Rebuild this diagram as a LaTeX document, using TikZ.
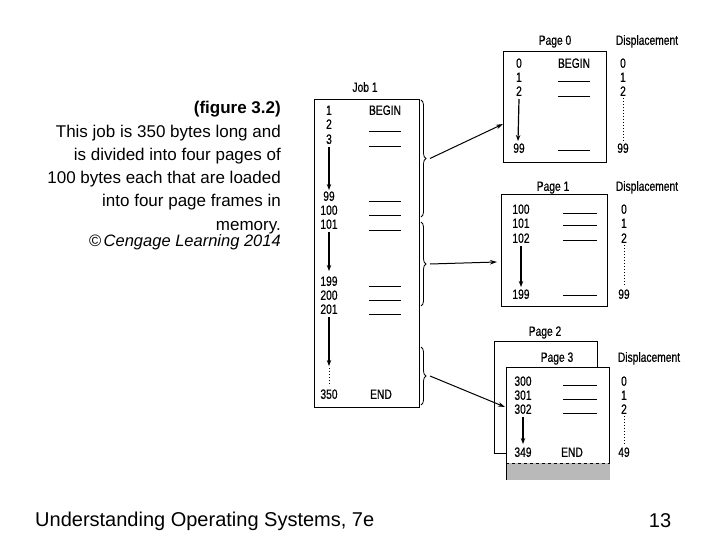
\documentclass[tikz,border=0pt]{standalone}
\usepackage{fontspec}
\setmainfont{Liberation Sans}
\newfontfamily\cond[FakeStretch=0.76,FakeBold=0.5]{Liberation Sans}
\usetikzlibrary{arrows.meta,decorations.pathreplacing,calc}
\tikzset{
  box/.style={draw, line width=1.1pt, anchor=north west, inner sep=0pt, fill=white},
  lbl/.style={font=\cond\fontsize{13.5}{13.5}\selectfont, inner sep=0pt, text height=9.7pt, text depth=0pt},
  captxt/.style={font=\fontsize{17}{17}\selectfont, anchor=base east, inner sep=0pt},
  entry/.style={line width=0.9pt},
  down/.style={line width=1.2pt, -{Stealth[length=6pt,width=4.5pt]}},
  dots/.style={dotted, line width=1pt},
  brc/.style={decorate, decoration={brace, amplitude=5pt}, line width=0.8pt},
  link/.style={line width=1pt, -{Stealth[length=7pt,width=4.5pt]}}
}
\begin{document}
\begin{tikzpicture}[x=1pt,y=-1pt]
\useasboundingbox (0,0) rectangle (720,540);
% caption
\node[captxt, font=\bfseries\fontsize{17}{17}\selectfont] (c1) at (281,114) {(figure 3.2)};
\node[captxt] (c2) at (281,138) {This job is 350 bytes long and};
\node[captxt] (c3) at (281,161) {is divided into four pages of};
\node[captxt] (c4) at (281,184) {100 bytes each that are loaded};
\node[captxt] (c5) at (281,207) {into four page frames in};
\node[captxt] (c6) at (281,230) {memory.};
\node[captxt, font=\itshape\fontsize{16.5}{16.5}\selectfont] (c7) at (281,247) {\char"00A9\,Cengage Learning 2014};
% Job 1
\node[lbl] (jl) at (365,87) {Job 1};
\node[box, minimum width=105pt, minimum height=308pt] (job) at (314,99) {};
\foreach \n/\y in {1/110,2/124,3/139,99/196,100/210,101/224,199/281,200/295,201/309,350/394}
  \node[lbl] (j\n) at (329,\y) {\n};
\node[lbl] (jb) at (385,110) {BEGIN};
\node[lbl] (je) at (381,394) {END};
\foreach \y in {131,146,201,215,230,286,300,314}
  \draw[entry] (369,\y) -- (401,\y);
\draw[down] (j3.south) ++(0,3) -- (329,190);
\draw[down] (j101.south) ++(0,3) -- (329,271);
\draw[down] (j201.south) ++(0,3) -- (329,366);
\draw[dots] (329,368) -- (329,386);
% braces
\draw[brc] (421,100) -- (421,217) coordinate[midway, xshift=6pt] (b1);
\draw[brc] (421,222) -- (421,306) coordinate[midway, xshift=6pt] (b2);
\draw[brc] (421,347) -- (421,405) coordinate[midway, xshift=6pt] (b3);
% Page 0
\node[lbl] (p0l) at (555,40) {Page 0};
\node[lbl] (d0l) at (647,40) {Displacement};
\node[box, minimum width=103pt, minimum height=111pt] (p0) at (503,51) {};
\foreach \n/\y in {0/63,1/77,2/91,99/148}
  \node[lbl] (a\n) at (519,\y) {\n};
\node[lbl] (p0b) at (574,63) {BEGIN};
\foreach \y in {81,96,150}
  \draw[entry] (558,\y) -- (590,\y);
\draw[down] (a2.south) ++(0,3) -- (518,141);
\foreach \n/\y in {0/63,1/77,2/91,99/148}
  \node[lbl] (da\n) at (623,\y) {\n};
\draw[dots] (da2.south) ++(0,2) -- (623,141);
% Page 1
\node[lbl] (p1l) at (553,186) {Page 1};
\node[lbl] (d1l) at (647,186) {Displacement};
\node[box, minimum width=106pt, minimum height=112pt] (p1) at (501,194) {};
\foreach \n/\y in {100/209,101/223,102/238,199/294}
  \node[lbl] (b\n) at (521,\y) {\n};
\foreach \y in {213,225,240,295}
  \draw[entry] (563,\y) -- (597,\y);
\draw[down] (b102.south) ++(0,3) -- (521,287);
\foreach \n/\y in {0/209,1/223,2/238,99/294}
  \node[lbl] (db\n) at (624,\y) {\n};
\draw[dots] (db2.south) ++(0,2) -- (624,287);
% Page 2 and 3
\node[lbl] (p2l) at (545,331) {Page 2};
\node[box, minimum width=103pt, minimum height=112pt] (p2) at (494,341) {};
\node[box, minimum width=103pt, minimum height=112pt] (p3) at (506,367) {};
\node[lbl] (p3l) at (557,357) {Page 3};
\node[lbl] (d3l) at (649,357) {Displacement};
\fill[gray!55] ($(p3.south west)+(0.6,-17)$) rectangle ($(p3.south east)+(-0.6,-0.6)$);
\draw[dashed, line width=0.9pt] ($(p3.south west)+(0,-17)$) -- ($(p3.south east)+(0,-17)$);
\foreach \n/\y in {300/381,301/395,302/409,349/452}
  \node[lbl] (c\n) at (523,\y) {\n};
\node[lbl] (p3e) at (572,452) {END};
\foreach \y in {385,399,413}
  \draw[entry] (563,\y) -- (597,\y);
\draw[down] (c302.south) ++(0,3) -- (523,444);
\foreach \n/\y in {0/381,1/395,2/409,49/452}
  \node[lbl] (dc\n) at (624,\y) {\n};
\draw[dots] (dc2.south) ++(0,2) -- (624,445);
% links
\draw[link] (b1) ++(3,0) -- ($(p0.north west)+(0,73)$);
\draw[link] (b2) ++(3,0) -- ($(p1.north west)+(-4,68)$);
\draw[link] (b3) ++(3,0) -- ($(p3.north west)+(-1,40)$);
% footer
\node[anchor=base west, inner sep=0pt, font=\fontsize{20}{20}\selectfont] (ft) at (35,526) {Understanding Operating Systems, 7e};
\node[anchor=base, inner sep=0pt, font=\fontsize{20}{20}\selectfont] (pg) at (660,527) {13};
\end{tikzpicture}
\end{document}
